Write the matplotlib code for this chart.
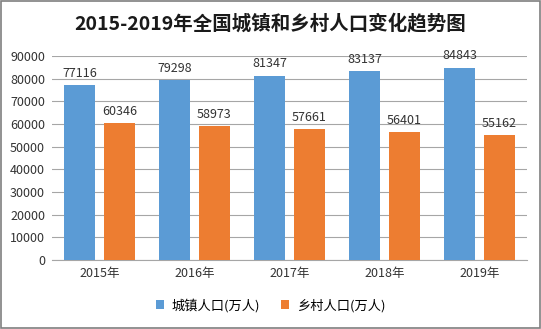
import numpy as np
import matplotlib.pyplot as plt
from matplotlib.patches import Rectangle

plt.rcParams['font.family'] = ['Noto Sans CJK SC', 'DejaVu Sans']

years = ["2015年", "2016年", "2017年", "2018年", "2019年"]
urban = [77116, 79298, 81347, 83137, 84843]
rural = [60346, 58973, 57661, 56401, 55162]
series_names = ["城镇人口(万人)", "乡村人口(万人)"]
yticks = [0, 10000, 20000, 30000, 40000, 50000, 60000, 70000, 80000, 90000]

blue = "#5B9BD5"
orange = "#ED7D31"

fig = plt.figure(figsize=(5.41, 3.29), dpi=100)
ax = fig.add_axes([0.096, 0.21, 0.878, 0.62])

x = np.arange(len(years))
w = 0.33
off = 0.21
b1 = ax.bar(x - off, urban, w, color=blue, label=series_names[0], zorder=3)
b2 = ax.bar(x + off, rural, w, color=orange, label=series_names[1], zorder=3)

for bars, vals in [(b1, urban), (b2, rural)]:
    for r, v in zip(bars, vals):
        ax.text(r.get_x() + r.get_width() / 2, v + 2300, str(v),
                ha="center", va="bottom", fontsize=9, color="#333333")

ax.set_xlim(-0.5, len(years) - 0.5)
ax.set_ylim(0, 90000)
ax.set_yticks(yticks)
ax.set_yticklabels([str(t) for t in yticks], fontsize=9, color="#333333")
ax.set_xticks(x)
ax.set_xticklabels(years, fontsize=9, color="#333333")
ax.tick_params(axis="both", length=0, pad=5)
ax.yaxis.grid(True, color="#A6A6A6", linewidth=0.8, zorder=0)
for s in ["top", "right", "left"]:
    ax.spines[s].set_visible(False)
ax.spines["bottom"].set_color("#A6A6A6")

fig.suptitle("2015-2019年全国城镇和乡村人口变化趋势图", x=0.5, y=0.96,
             fontsize=14, fontweight="bold", color="#1a1a1a")

fig.legend(loc="center", bbox_to_anchor=(0.5, 0.072), ncol=2, frameon=False,
           fontsize=9.5, handlelength=0.6, handleheight=0.6, columnspacing=1.6,
           handletextpad=0.6)

fig.patches.append(Rectangle((0.001, 0.002), 0.997, 0.995, transform=fig.transFigure,
                             fill=False, edgecolor="#7F7F7F", linewidth=1.2))

fig.savefig("out.png", dpi=100)
